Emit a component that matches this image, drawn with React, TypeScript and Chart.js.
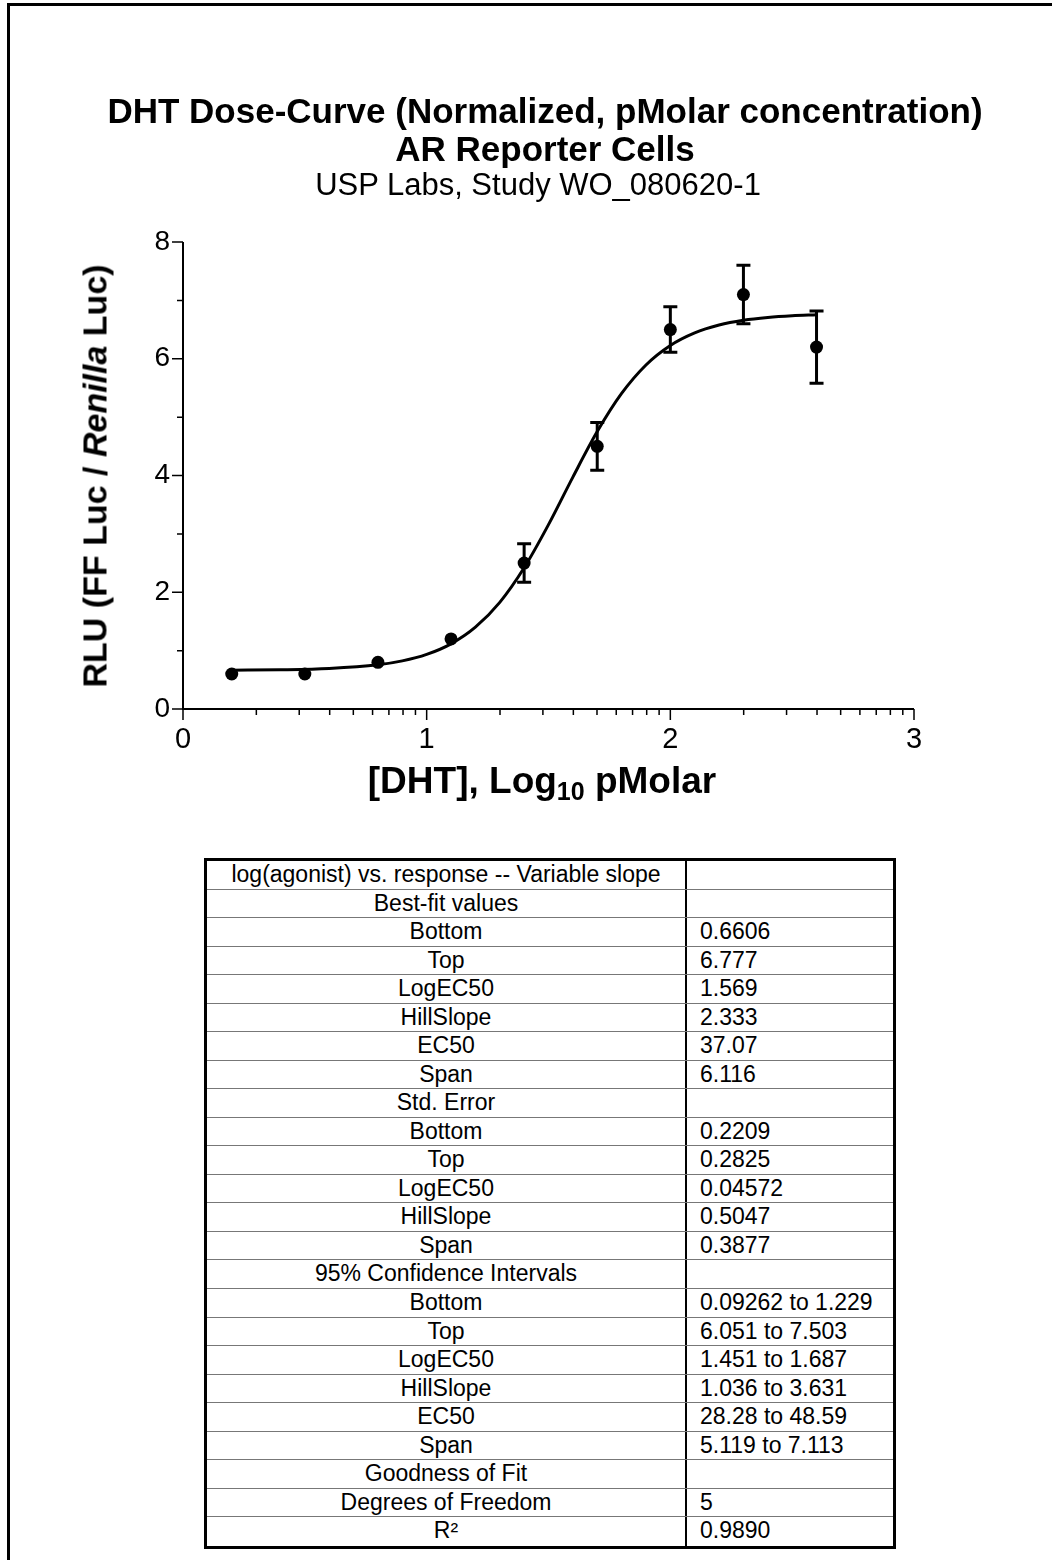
import React, { useEffect, useRef } from "react";
import { Chart, registerables } from "chart.js";

Chart.register(...registerables);

// ---- data ----
const doseLog = [0.2, 0.5, 0.8, 1.1, 1.4, 1.7, 2.0, 2.3, 2.6];
const meanRLU = [0.6, 0.6, 0.8, 1.2, 2.5, 4.5, 6.5, 7.1, 6.2];
const semRLU = [0, 0, 0, 0, 0.33, 0.41, 0.39, 0.5, 0.62];

const fitX = [0.2, 0.4, 0.6, 0.8, 0.9, 1.0, 1.1, 1.2, 1.3, 1.4, 1.5, 1.6, 1.7, 1.8, 1.9, 2.0, 2.1, 2.2, 2.3, 2.4, 2.5, 2.6];
const fitY = [0.665, 0.672, 0.694, 0.757, 0.824, 0.935, 1.116, 1.401, 1.827, 2.419, 3.158, 3.973, 4.752, 5.405, 5.893, 6.227, 6.443, 6.577, 6.659, 6.707, 6.736, 6.753];

const xMajorTicks = [0, 1, 2, 3];
const xMinorTicks = [0.301, 0.477, 0.602, 0.699, 0.778, 0.845, 0.903, 0.954, 1.301, 1.477, 1.602, 1.699, 1.778, 1.845, 1.903, 1.954, 2.301, 2.477, 2.602, 2.699, 2.778, 2.845, 2.903, 2.954];
const yMajorTicks = [0, 2, 4, 6, 8];
const yMinorTicks = [1, 3, 5, 7];

const titleLine1 = "DHT Dose-Curve (Normalized, pMolar concentration)";
const titleLine2 = "AR Reporter Cells";
const titleLine3 = "USP Labs, Study WO_080620-1";

const tableLabels = [
  "log(agonist) vs. response -- Variable slope",
  "Best-fit values",
  "Bottom",
  "Top",
  "LogEC50",
  "HillSlope",
  "EC50",
  "Span",
  "Std. Error",
  "Bottom",
  "Top",
  "LogEC50",
  "HillSlope",
  "Span",
  "95% Confidence Intervals",
  "Bottom",
  "Top",
  "LogEC50",
  "HillSlope",
  "EC50",
  "Span",
  "Goodness of Fit",
  "Degrees of Freedom",
  "R²",
];
const tableValues = [
  "",
  "",
  "0.6606",
  "6.777",
  "1.569",
  "2.333",
  "37.07",
  "6.116",
  "",
  "0.2209",
  "0.2825",
  "0.04572",
  "0.5047",
  "0.3877",
  "",
  "0.09262 to 1.229",
  "6.051 to 7.503",
  "1.451 to 1.687",
  "1.036 to 3.631",
  "28.28 to 48.59",
  "5.119 to 7.113",
  "",
  "5",
  "0.9890",
];

const FONT = "'Liberation Sans', Arial, Helvetica, sans-serif";

const axesPlugin = {
  id: "axesAndErrors",
  afterDatasetsDraw(chart: any) {
    const ctx = chart.ctx;
    const xs = chart.scales.x;
    const ys = chart.scales.y;
    ctx.save();
    ctx.strokeStyle = "#000";
    ctx.lineWidth = 3;
    doseLog.forEach((d, i) => {
      if (!semRLU[i]) return;
      const px = xs.getPixelForValue(d);
      const top = ys.getPixelForValue(meanRLU[i] + semRLU[i]);
      const bot = ys.getPixelForValue(meanRLU[i] - semRLU[i]);
      ctx.beginPath();
      ctx.moveTo(px, top);
      ctx.lineTo(px, bot);
      ctx.moveTo(px - 7, top);
      ctx.lineTo(px + 7, top);
      ctx.moveTo(px - 7, bot);
      ctx.lineTo(px + 7, bot);
      ctx.stroke();
    });
    ctx.restore();
  },
  afterDraw(chart: any) {
    const ctx = chart.ctx;
    const xs = chart.scales.x;
    const ys = chart.scales.y;
    const area = chart.chartArea;
    ctx.save();
    ctx.strokeStyle = "#000";
    ctx.lineCap = "butt";
    ctx.lineWidth = 2;
    ctx.beginPath();
    ctx.moveTo(area.left, ys.getPixelForValue(8));
    ctx.lineTo(area.left, area.bottom + 1);
    ctx.moveTo(area.left - 1, area.bottom);
    ctx.lineTo(xs.getPixelForValue(3), area.bottom);
    ctx.stroke();
    ctx.lineWidth = 1.5;
    ctx.beginPath();
    xMajorTicks.forEach((v) => {
      const px = xs.getPixelForValue(v);
      ctx.moveTo(px, area.bottom);
      ctx.lineTo(px, area.bottom + 11);
    });
    xMinorTicks.forEach((v) => {
      const px = xs.getPixelForValue(v);
      ctx.moveTo(px, area.bottom);
      ctx.lineTo(px, area.bottom + 6);
    });
    yMajorTicks.forEach((v) => {
      const py = ys.getPixelForValue(v);
      ctx.moveTo(area.left, py);
      ctx.lineTo(area.left - 11, py);
    });
    yMinorTicks.forEach((v) => {
      const py = ys.getPixelForValue(v);
      ctx.moveTo(area.left, py);
      ctx.lineTo(area.left - 6, py);
    });
    ctx.stroke();
    ctx.restore();
  },
};

function DoseChart() {
  const ref = useRef<HTMLCanvasElement | null>(null);
  useEffect(() => {
    if (!ref.current) return;
    const chart = new Chart(ref.current, {
      type: "scatter",
      data: {
        datasets: [
          {
            type: "line",
            label: "Fit",
            data: fitX.map((x, i) => ({ x, y: fitY[i] })),
            borderColor: "#000",
            borderWidth: 3,
            pointRadius: 0,
            fill: false,
            cubicInterpolationMode: "monotone",
          } as any,
          {
            type: "scatter",
            label: "DHT",
            data: doseLog.map((x, i) => ({ x, y: meanRLU[i] })),
            backgroundColor: "#000",
            borderColor: "#000",
            borderWidth: 0,
            pointRadius: 6.5,
          },
        ],
      },
      options: {
        animation: false,
        responsive: false,
        devicePixelRatio: 1,
        layout: { padding: { left: 0, right: 138, top: 242, bottom: 81 } },
        plugins: {
          legend: { display: false },
          tooltip: { enabled: false },
          title: { display: false },
        },
        scales: {
          x: {
            type: "linear",
            min: 0,
            max: 3,
            afterBuildTicks: (s: any) => {
              s.ticks = xMajorTicks.map((v) => ({ value: v }));
            },
            afterFit: (s: any) => {
              s.height = 40;
            },
            grid: { display: true, drawOnChartArea: false, drawTicks: false },
            border: { display: false },
            ticks: {
              padding: 14,
              color: "#000",
              font: { family: "Arial", size: 29 },
              callback: (v: any) => String(v),
            },
          },
          y: {
            type: "linear",
            min: 0,
            max: 8,
            afterBuildTicks: (s: any) => {
              s.ticks = yMajorTicks.map((v) => ({ value: v }));
            },
            afterFit: (s: any) => {
              s.width = 183;
            },
            grid: { display: true, drawOnChartArea: false, drawTicks: false },
            border: { display: false },
            ticks: {
              padding: 13,
              color: "#000",
              font: { family: "Arial", size: 28 },
              callback: (v: any) => String(v),
            },
          },
        },
      },
      plugins: [axesPlugin],
    });
    return () => chart.destroy();
  }, []);
  return (
    <canvas
      ref={ref}
      width={1052}
      height={830}
      style={{ position: "absolute", left: 0, top: 0, width: 1052, height: 830 }}
    />
  );
}

export default function App() {
  const rowH = 28.54;
  return (
    <div
      style={{
        position: "absolute",
        left: 0,
        top: 0,
        width: 1052,
        height: 1560,
        overflow: "hidden",
        background: "#fff",
        fontFamily: FONT,
        color: "#000",
      }}
    >
      <div
        style={{
          position: "absolute",
          left: 7,
          top: 3,
          width: 1200,
          height: 1700,
          borderLeft: "3px solid #000",
          borderTop: "3px solid #000",
        }}
      />
      <DoseChart />
      <div
        style={{
          position: "absolute",
          left: 0,
          width: 1090,
          top: 92,
          textAlign: "center",
          fontWeight: "bold",
          fontSize: 35,
          lineHeight: "38px",
          whiteSpace: "nowrap",
        }}
      >
        <div>{titleLine1}</div>
        <div>{titleLine2}</div>
        <div style={{ fontWeight: "normal", fontSize: 31, lineHeight: "34px", position: "relative", left: -7 }}>
          {titleLine3}
        </div>
      </div>
      <div
        style={{
          position: "absolute",
          left: 95,
          top: 476,
          transform: "translate(-50%, -50%) rotate(-90deg)",
          fontWeight: "bold",
          fontSize: 34,
          whiteSpace: "nowrap",
        }}
      >
        RLU (FF Luc / <i>Renilla</i> Luc)
      </div>
      <div
        style={{
          position: "absolute",
          left: 542,
          top: 783,
          transform: "translate(-50%, -50%)",
          fontWeight: "bold",
          fontSize: 37,
          whiteSpace: "nowrap",
        }}
      >
        [DHT], Log<sub style={{ fontSize: 25, verticalAlign: "-7px" }}>10</sub> pMolar
      </div>
      <div
        style={{
          position: "absolute",
          left: 204,
          top: 858,
          width: 692,
          boxSizing: "border-box",
          border: "3px solid #000",
          fontSize: 23,
        }}
      >
        {tableLabels.map((lab, i) => (
          <div
            key={i}
            style={{
              display: "flex",
              height: rowH,
              boxSizing: "border-box",
              borderBottom: i < tableLabels.length - 1 ? "1px solid #777" : "none",
              lineHeight: rowH - 1 + "px",
            }}
          >
            <div
              style={{
                width: 480,
                flex: "none",
                textAlign: "center",
                borderRight: "2px solid #000",
                boxSizing: "border-box",
                whiteSpace: "nowrap",
              }}
            >
              {lab}
            </div>
            <div style={{ paddingLeft: 13, whiteSpace: "nowrap" }}>{tableValues[i]}</div>
          </div>
        ))}
      </div>
    </div>
  );
}
